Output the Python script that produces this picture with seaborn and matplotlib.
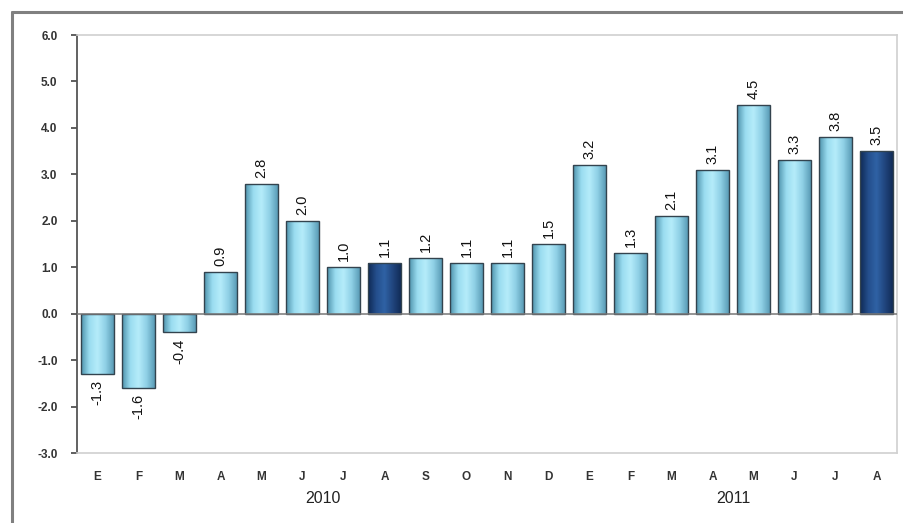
import numpy as np
import pandas as pd
import matplotlib
matplotlib.use("Agg")
import matplotlib.pyplot as plt
import seaborn as sns
from matplotlib.lines import Line2D
from matplotlib.colors import to_rgb

# Monthly annual variation (%)
months = ["E", "F", "M", "A", "M", "J", "J", "A", "S", "O", "N", "D",
          "E", "F", "M", "A", "M", "J", "J", "A"]
periods = ["2010-01", "2010-02", "2010-03", "2010-04", "2010-05", "2010-06",
           "2010-07", "2010-08", "2010-09", "2010-10", "2010-11", "2010-12",
           "2011-01", "2011-02", "2011-03", "2011-04", "2011-05", "2011-06",
           "2011-07", "2011-08"]
values = [-1.3, -1.6, -0.4, 0.9, 2.8, 2.0, 1.0, 1.1, 1.2, 1.1, 1.1, 1.5,
          3.2, 1.3, 2.1, 3.1, 4.5, 3.3, 3.8, 3.5]
highlight = ["no"] * 7 + ["yes"] + ["no"] * 11 + ["yes"]
years = ["2010", "2011"]
year_centers = [5.5, 15.5]
yticks = [-3.0, -2.0, -1.0, 0.0, 1.0, 2.0, 3.0, 4.0, 5.0, 6.0]

df = pd.DataFrame({"period": periods, "value": values, "highlight": highlight})

sns.set_style("white")
plt.rcParams["font.family"] = ["Liberation Sans", "DejaVu Sans"]

fig = plt.figure(figsize=(9.04, 5.23), dpi=100)
ax = fig.add_axes([77 / 904, 1 - 453 / 523, 820 / 904, 418 / 523])

sns.barplot(data=df, x="period", y="value", hue="highlight",
            palette={"no": "#8fd3ea", "yes": "#1f3f7a"}, dodge=False,
            width=0.8, legend=False, ax=ax, saturation=1)

# horizontal shading across each bar to give a cylindrical look
light_stops = ["#4f93ad", "#9adcf0", "#b5ecfa", "#8fd0e6", "#5a9cb6"]
dark_stops = ["#0f2a55", "#244e8c", "#2f62a5", "#21467f", "#112c58"]

def make_grad(stops, n=64):
    cols = np.array([to_rgb(c) for c in stops])
    pos = np.linspace(0, 1, len(stops))
    t = np.linspace(0, 1, n)
    grad = np.stack([np.interp(t, pos, cols[:, k]) for k in range(3)], axis=-1)
    return grad[np.newaxis, :, :]

light_grad = make_grad(light_stops)
dark_grad = make_grad(dark_stops)

for patch in list(ax.patches):
    x0, y0 = patch.get_x(), patch.get_y()
    w, h = patch.get_width(), patch.get_height()
    if h == 0:
        continue
    fc = patch.get_facecolor()
    grad = dark_grad if fc[0] < 0.3 else light_grad
    ybot, ytop = min(y0, y0 + h), max(y0, y0 + h)
    im = ax.imshow(grad, extent=[x0, x0 + w, ybot, ytop], aspect="auto",
                   zorder=2, interpolation="bilinear")
    im.set_clip_path(patch)
    patch.set_facecolor("none")
    patch.set_edgecolor("#33434e")
    patch.set_linewidth(1.0)
    patch.set_zorder(3)

# value labels
for i, v in enumerate(values):
    if v >= 0:
        ax.text(i, v + 0.13, f"{v:.1f}", rotation=90, ha="center", va="bottom",
                fontsize=10.5, color="#111111")
    else:
        ax.text(i, v - 0.13, f"{v:.1f}", rotation=90, ha="center", va="top",
                fontsize=10.5, color="#111111")

ax.set_xlim(-0.5, len(values) - 0.5)
ax.set_ylim(-3.0, 6.0)
ax.set_yticks(yticks)
ax.set_yticklabels([f"{t:.1f}" for t in yticks], fontsize=8.5, color="#333333",
                   fontweight="bold")
ax.set_xticks(range(len(months)))
ax.set_xticklabels(months, fontsize=8.5, color="#333333", fontweight="bold")
ax.tick_params(axis="x", length=0, pad=13)
ax.tick_params(axis="y", length=4, width=1.2, color="#444444", direction="out",
               pad=10, left=True)
ax.set_xlabel("")
ax.set_ylabel("")

for side in ["top", "right", "bottom"]:
    ax.spines[side].set_color("#d0d0d0")
    ax.spines[side].set_linewidth(1.2)
ax.spines["left"].set_color("#555555")
ax.spines["left"].set_linewidth(1.3)
ax.axhline(0, color="#777777", linewidth=1.1, zorder=4)

for yr, xc in zip(years, year_centers):
    ax.text(xc, -0.09, yr, transform=ax.get_xaxis_transform(), ha="center",
            va="top", fontsize=11.5, color="#222222")

# outer frame
fig.add_artist(Line2D([12 / 904, 1.0], [1 - 12 / 523, 1 - 12 / 523],
                      transform=fig.transFigure, color="#808080", linewidth=2.2))
fig.add_artist(Line2D([12 / 904, 12 / 904], [1 - 12 / 523, 0.0],
                      transform=fig.transFigure, color="#808080", linewidth=2.2))

fig.savefig("out.png", dpi=100)
